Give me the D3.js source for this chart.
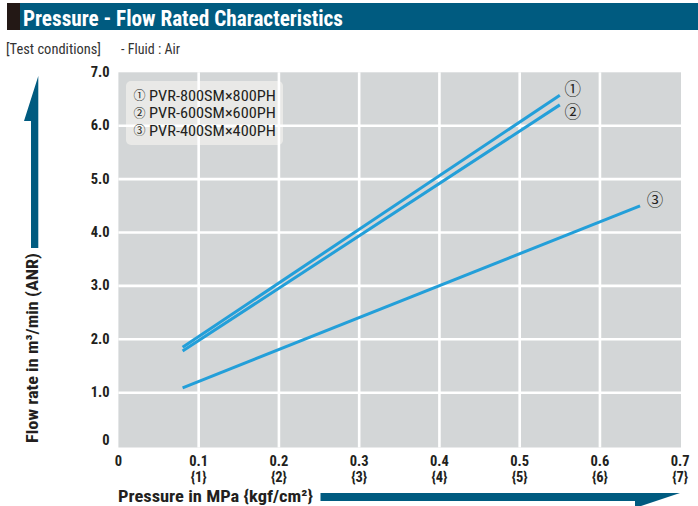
<!DOCTYPE html>
<html>
<head>
<meta charset="utf-8">
<script src="https://cdn.jsdelivr.net/npm/d3@7"></script>
<style>
  html, body { margin: 0; padding: 0; background: #ffffff; }
  svg { display: block; }
</style>
</head>
<body>
<svg id="chart" width="698" height="506"></svg>
<script>
// ---------------- data ----------------
const title = "Pressure - Flow Rated Characteristics";
const conditionsLabel = "[Test conditions]";
const conditionsText = "- Fluid : Air";
const xTicks = [0, 0.1, 0.2, 0.3, 0.4, 0.5, 0.6, 0.7];
const xTickLabels = ["0", "0.1", "0.2", "0.3", "0.4", "0.5", "0.6", "0.7"];
const xTickSubLabels = ["", "{1}", "{2}", "{3}", "{4}", "{5}", "{6}", "{7}"];
const yTicks = [0, 1, 2, 3, 4, 5, 6, 7];
const yTickLabels = ["0", "1.0", "2.0", "3.0", "4.0", "5.0", "6.0", "7.0"];
const seriesMarks = ["①", "②", "③"];
const seriesNames = ["PVR-800SM×800PH", "PVR-600SM×600PH", "PVR-400SM×400PH"];
const pressure1 = [0.08, 0.55];
const flow1 = [1.85, 6.57];
const pressure2 = [0.08, 0.55];
const flow2 = [1.78, 6.39];
const pressure3 = [0.08, 0.65];
const flow3 = [1.09, 4.50];
const xAxisTitle = "Pressure in MPa {kgf/cm²}";
const yAxisTitle = "Flow rate in m³/min (ANR)";

// ---------------- setup ----------------
const svg = d3.select("#chart");
const COND = "'Liberation Sans Narrow','Arial Narrow','Roboto Condensed','Liberation Sans',Arial,sans-serif";
const CJK = "'Noto Sans CJK JP','DejaVu Sans',sans-serif";
const DARK = "#231f20";
const NAVY = "#005b80";
const LINE = "#239fd9";

const x = d3.scaleLinear().domain([0, 0.7]).range([118.4, 680.2]);
const y = d3.scaleLinear().domain([0, 7]).range([446.1, 72.3]);

// title bar
svg.append("rect").attr("x", 7).attr("y", 3).attr("width", 13).attr("height", 27).attr("fill", "#231815");
svg.append("rect").attr("x", 20).attr("y", 3).attr("width", 678).attr("height", 27).attr("fill", NAVY);
svg.append("text").attr("x", 23).attr("y", 25.5)
  .attr("font-family", COND).attr("font-weight", "bold").attr("font-size", 22)
  .attr("fill", "#ffffff").attr("textLength", 320).attr("lengthAdjust", "spacingAndGlyphs")
  .text(title);

// test conditions
svg.append("text").attr("x", 6).attr("y", 54)
  .attr("font-family", COND).attr("font-size", 14).attr("fill", "#333333")
  .attr("textLength", 95).attr("lengthAdjust", "spacingAndGlyphs").text(conditionsLabel);
svg.append("text").attr("x", 121).attr("y", 54)
  .attr("font-family", COND).attr("font-size", 14).attr("fill", "#333333")
  .attr("textLength", 59).attr("lengthAdjust", "spacingAndGlyphs").text(conditionsText);

// plot background
svg.append("rect").attr("x", x(0)).attr("y", y(7))
  .attr("width", 681 - x(0)).attr("height", 447.5 - y(7)).attr("fill", "#d3d6d7");

// legend box (under grid)
svg.append("rect").attr("x", 126).attr("y", 81).attr("width", 157).attr("height", 64)
  .attr("rx", 5).attr("fill", "#e9e9e7");

// grid
const grid = svg.append("g").attr("stroke", "#ffffff").attr("stroke-width", 2.6);
grid.selectAll("line.v").data(xTicks.filter(d => d > 0 && d < 0.7)).join("line")
  .attr("x1", d => x(d)).attr("x2", d => x(d)).attr("y1", y(7)).attr("y2", 447.5);
grid.selectAll("line.h").data(yTicks.filter(d => d > 0 && d < 7)).join("line")
  .attr("x1", x(0)).attr("x2", 681).attr("y1", d => y(d)).attr("y2", d => y(d));

// legend text
const legendMid = [95.5, 113, 130.5];
seriesNames.forEach((name, i) => {
  svg.append("text").attr("x", 139.5).attr("y", legendMid[i] + 4.5)
    .attr("text-anchor", "middle")
    .attr("font-family", CJK).attr("font-size", 12).attr("fill", DARK).text(seriesMarks[i]);
  svg.append("text").attr("x", 149).attr("y", legendMid[i] + 5.2)
    .attr("font-family", COND).attr("font-size", 15).attr("fill", DARK)
    .attr("textLength", 127).attr("lengthAdjust", "spacingAndGlyphs").text(name);
});

// data lines
const series = [
  { p: pressure1, f: flow1 },
  { p: pressure2, f: flow2 },
  { p: pressure3, f: flow3 }
];
const lineGen = d3.line().x(d => x(d[0])).y(d => y(d[1]));
series.forEach(s => {
  svg.append("path").datum(s.p.map((v, i) => [v, s.f[i]]))
    .attr("d", lineGen).attr("fill", "none").attr("stroke", LINE).attr("stroke-width", 3);
});

// end markers
const markPos = [[x(pressure1[1]) + 13, y(flow1[1]) - 7], [x(pressure2[1]) + 13, y(flow2[1]) + 6], [x(pressure3[1]) + 15, y(flow3[1]) - 6.5]];
seriesMarks.forEach((m, i) => {
  svg.append("text").attr("x", markPos[i][0]).attr("y", markPos[i][1])
    .attr("text-anchor", "middle").attr("dominant-baseline", "central")
    .attr("font-family", CJK).attr("font-size", 16.5).attr("fill", DARK).text(m);
});

// y tick labels
svg.append("g").selectAll("text").data(yTicks).join("text")
  .attr("x", 109.5).attr("y", d => d === 0 ? y(d) - 5.5 : y(d))
  .attr("text-anchor", "end").attr("dominant-baseline", "central")
  .attr("font-family", COND).attr("font-weight", "bold").attr("font-size", 14.5).attr("fill", DARK)
  .text((d, i) => yTickLabels[i]);

// x tick labels
svg.append("g").selectAll("text").data(xTicks).join("text")
  .attr("x", d => x(d)).attr("y", 466).attr("text-anchor", "middle")
  .attr("font-family", COND).attr("font-weight", "bold").attr("font-size", 14.5).attr("fill", DARK)
  .text((d, i) => xTickLabels[i]);
svg.append("g").selectAll("text").data(xTicks).join("text")
  .attr("x", d => x(d)).attr("y", 482).attr("text-anchor", "middle")
  .attr("font-family", COND).attr("font-weight", "bold").attr("font-size", 14.5).attr("fill", DARK)
  .text((d, i) => xTickSubLabels[i]);

// x axis title + arrow
svg.append("text").attr("x", 118).attr("y", 502)
  .attr("font-family", COND).attr("font-weight", "bold").attr("font-size", 17).attr("fill", DARK)
  .attr("textLength", 195).attr("lengthAdjust", "spacingAndGlyphs").text(xAxisTitle);
svg.append("polygon")
  .attr("points", "320.5,493 680,493 635,508 635,501 320.5,501").attr("fill", NAVY);

// y axis title + arrow
svg.append("text").attr("transform", "translate(38,348) rotate(-90)")
  .attr("text-anchor", "middle")
  .attr("font-family", COND).attr("font-weight", "bold").attr("font-size", 17).attr("fill", DARK)
  .attr("textLength", 190).attr("lengthAdjust", "spacingAndGlyphs").text(yAxisTitle);
svg.append("polygon")
  .attr("points", "38.3,76 24,121 31,121 31,248 38.3,248").attr("fill", NAVY);
</script>
</body>
</html>
